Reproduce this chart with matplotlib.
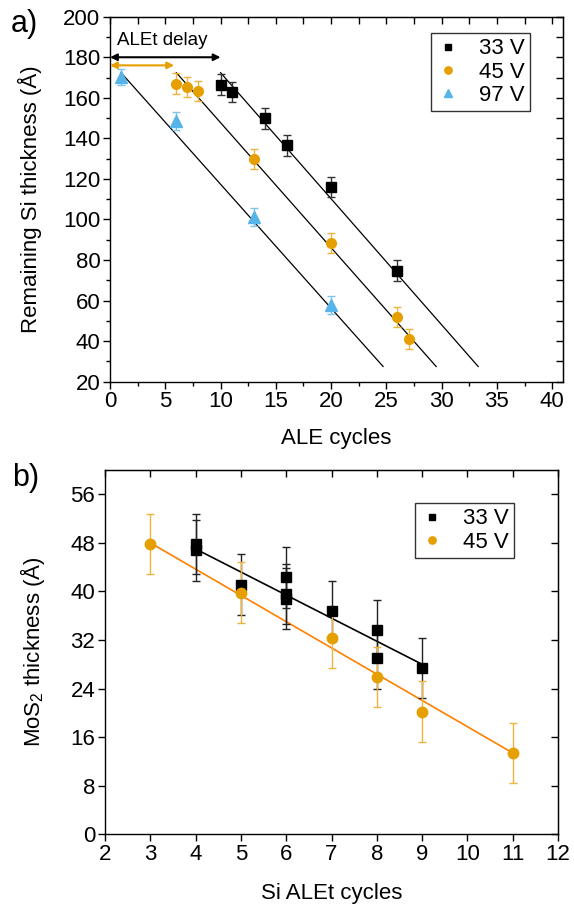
import matplotlib
matplotlib.use("Agg")
import matplotlib.pyplot as plt
from matplotlib.ticker import MultipleLocator

plt.rcParams['font.family'] = ['Liberation Sans', 'DejaVu Sans']
plt.rcParams['mathtext.fontset'] = 'custom'
plt.rcParams['mathtext.rm'] = 'Liberation Sans'

# ---------------- Panel a data ----------------
a_x_33 = [10, 11, 14, 16, 20, 26]
a_y_33 = [166.5, 163, 149.8, 136.5, 116, 74.8]
a_e_33 = [5, 5, 5, 5, 5, 5]

a_x_45 = [6, 7, 8, 13, 20, 26, 27]
a_y_45 = [167, 165.5, 163.5, 130, 88.3, 52, 41.2]
a_e_45 = [5, 5, 5, 5, 5, 5, 5]

a_x_97 = [1, 6, 13, 20]
a_y_97 = [170.3, 148.5, 101.3, 58]
a_e_97 = [4, 4.5, 4.5, 4.5]

# linear guide lines (start x, start y, end x, end y)
fit_a_x0 = [10, 6, 1]
fit_a_y0 = [172.4, 172.4, 172.4]
fit_a_x1 = [33.3, 29.5, 24.7]
fit_a_y1 = [27.5, 27.5, 27.5]

# ALEt delay arrows
delay_end = [10, 5.8]
delay_y = [180, 176]

# ---------------- Panel b data ----------------
b_x_33 = [4, 4, 5, 6, 6, 6, 7, 8, 8, 9]
b_y_33 = [47.8, 46.8, 41.1, 42.3, 39.6, 38.8, 36.8, 33.6, 29.0, 27.4]
b_e_33 = [5, 5, 5, 5, 5, 5, 5, 5, 5, 5]

b_x_45 = [3, 5, 7, 8, 9, 11]
b_y_45 = [47.8, 39.8, 32.4, 25.9, 20.2, 13.4]
b_e_45 = [5, 5, 5, 5, 5, 5]

fit_b33_x = [4, 9]
fit_b33_y = [47.0, 28.0]
fit_b45_x = [3, 11]
fit_b45_y = [48.0, 13.4]

BLACK = '#000000'
ORANGE = '#E69F00'
BLUE = '#56B4E9'
ORANGE_LINE = '#FF8000'

fig = plt.figure(figsize=(5.74, 9.08), dpi=100)
axa = fig.add_axes([110/574, 1-381.7/908, 453.3/574, 365/908])
axb = fig.add_axes([105/574, 1-834.3/908, 453/574, 364.3/908])

FS = 16


def style(ax, xmaj, xmin, ymaj, ymin):
    ax.xaxis.set_major_locator(MultipleLocator(xmaj))
    ax.yaxis.set_major_locator(MultipleLocator(ymaj))
    if xmin:
        ax.xaxis.set_minor_locator(MultipleLocator(xmin))
    if ymin:
        ax.yaxis.set_minor_locator(MultipleLocator(ymin))
    ax.tick_params(which='major', direction='out', length=5, width=1,
                   labelsize=FS, top=False, right=False, pad=2)
    ax.tick_params(which='minor', direction='out', length=3, width=1,
                   top=False, right=False)
    for s in ax.spines.values():
        s.set_linewidth(1.0)
    sx = ax.secondary_xaxis('top')
    sx.xaxis.set_major_locator(MultipleLocator(xmaj))
    if xmin:
        sx.xaxis.set_minor_locator(MultipleLocator(xmin))
    sx.tick_params(which='both', direction='in', length=5, width=1, labeltop=False)
    sx.tick_params(which='minor', length=5)
    sy = ax.secondary_yaxis('right')
    sy.yaxis.set_major_locator(MultipleLocator(ymaj))
    if ymin:
        sy.yaxis.set_minor_locator(MultipleLocator(ymin))
    sy.tick_params(which='both', direction='in', length=5, width=1, labelright=False)


# ---------- Panel a ----------
for x0, y0, x1, y1 in zip(fit_a_x0, fit_a_y0, fit_a_x1, fit_a_y1):
    axa.plot([x0, x1], [y0, y1], color='black', lw=0.9, zorder=2)

ekw = dict(capsize=3, elinewidth=1.0, capthick=1.0, linestyle='none', zorder=3)
axa.errorbar(a_x_33, a_y_33, yerr=a_e_33, marker='s', ms=6.5, color=BLACK,
             ecolor='#333333', label='33 V', **ekw)
axa.errorbar(a_x_45, a_y_45, yerr=a_e_45, marker='o', ms=7, color=ORANGE,
             ecolor='#EDB440', label='45 V', **ekw)
axa.errorbar(a_x_97, a_y_97, yerr=a_e_97, marker='^', ms=8.5, color=BLUE,
             ecolor='#7CC4EE', label='97 V', **ekw)

axa.annotate('', xy=(delay_end[0], delay_y[0]), xytext=(0, delay_y[0]),
             arrowprops=dict(arrowstyle='<|-|>', color='black', lw=1.5,
                             mutation_scale=10, shrinkA=0, shrinkB=0))
axa.annotate('', xy=(delay_end[1], delay_y[1]), xytext=(0, delay_y[1]),
             arrowprops=dict(arrowstyle='<|-|>', color=ORANGE, lw=1.5,
                             mutation_scale=10, shrinkA=0, shrinkB=0))
axa.text(0.6, 188.5, 'ALEt delay', fontsize=13.5, va='center', ha='left')

axa.set_xlim(0, 41)
axa.set_ylim(20, 200)
style(axa, 5, 2.5, 20, 10)
axa.set_xlabel('ALE cycles', fontsize=FS)
axa.set_ylabel('Remaining Si thickness (Å)', fontsize=FS)
axa.xaxis.set_label_coords(0.5, -0.128)
axa.yaxis.set_label_coords(-0.15, 0.5)

handles, labels = axa.get_legend_handles_labels()
handles = [h[0] for h in handles]
leg = axa.legend(handles, labels, loc='upper right', bbox_to_anchor=(0.927, 0.956),
                 fontsize=FS, frameon=True, fancybox=False, edgecolor='black',
                 handlelength=1.0, handletextpad=0.9, borderpad=0.25,
                 labelspacing=0.1, borderaxespad=0, markerscale=0.75)
leg.get_frame().set_linewidth(1.0)

# ---------- Panel b ----------
axb.plot(fit_b33_x, fit_b33_y, color='black', lw=1.2, zorder=2)
axb.plot(fit_b45_x, fit_b45_y, color=ORANGE_LINE, lw=1.2, zorder=2)
axb.errorbar(b_x_33, b_y_33, yerr=b_e_33, marker='s', ms=7, color=BLACK,
             ecolor='#222222', label='33 V', **ekw)
axb.errorbar(b_x_45, b_y_45, yerr=b_e_45, marker='o', ms=7.5, color=ORANGE,
             ecolor='#EDB440', label='45 V', **ekw)
axb.set_xlim(2, 12)
axb.set_ylim(0, 60)
style(axb, 1, None, 8, None)
axb.set_xlabel('Si ALEt cycles', fontsize=FS)
axb.set_ylabel('MoS$_2$ thickness (Å)', fontsize=FS)
axb.xaxis.set_label_coords(0.5, -0.133)
axb.yaxis.set_label_coords(-0.128, 0.5)

handles, labels = axb.get_legend_handles_labels()
handles = [h[0] for h in handles]
leg = axb.legend(handles, labels, loc='upper right', bbox_to_anchor=(0.903, 0.91),
                 fontsize=FS, frameon=True, fancybox=False, edgecolor='black',
                 handlelength=1.0, handletextpad=0.9, borderpad=0.25,
                 labelspacing=0.1, borderaxespad=0, markerscale=0.7)
leg.get_frame().set_linewidth(1.0)

fig.text(24/574, 1-24/908, 'a)', fontsize=22, ha='center', va='center')
fig.text(26/574, 1-478/908, 'b)', fontsize=22, ha='center', va='center')

fig.savefig('out.png', dpi=100)
